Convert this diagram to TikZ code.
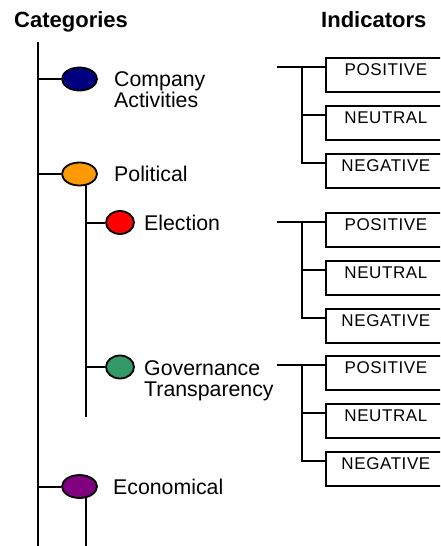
\documentclass[tikz,border=0pt]{standalone}
\usepackage{fontspec}
\setmainfont{Liberation Sans}
\newfontfamily\boxfont[LetterSpace=3.5]{Liberation Sans}
\usetikzlibrary{shapes.geometric,calc}

\definecolor{catnavy}{HTML}{000080}
\definecolor{catorange}{HTML}{FF9900}
\definecolor{catred}{HTML}{FF0000}
\definecolor{catgreen}{HTML}{339966}
\definecolor{catpurple}{HTML}{800080}

% one group of indicator boxes hanging from a stub at height #2
\newcommand\indgroup[2]{%
  \coordinate (#1s) at (277,#2);
  \coordinate (#1j) at (302,#2);
  \node[indbox] (#1p) at (325,#2-10) {POSITIVE};
  \node[indbox] (#1u) at (325,#2+38) {NEUTRAL};
  \node[indbox] (#1n) at (325,#2+86) {NEGATIVE};
  \coordinate (#1pm) at ($(#1p.north west)+(0,10)$);
  \coordinate (#1um) at ($(#1u.north west)+(0,10)$);
  \coordinate (#1nm) at ($(#1n.north west)+(0,10)$);
  \draw[tree] (#1s) -- (#1pm);
  \draw[tree] (#1j) |- (#1nm);
  \draw[tree] (#1j |- #1um) -- (#1um);
}

\begin{document}
\begin{tikzpicture}[x=1pt,y=-1pt,
  tree/.style={line width=2pt},
  cat/.style={ellipse, draw, line width=1.8pt, minimum width=35pt,
    minimum height=23pt, inner sep=0pt},
  subcat/.style={cat, minimum width=28pt},
  lab/.style={anchor=base west, inner sep=0pt, align=left,
    font=\fontsize{21.3}{21}\selectfont},
  head/.style={anchor=base west, inner sep=0pt,
    font=\bfseries\fontsize{22}{24}\selectfont},
  indbox/.style={draw, line width=1.8pt, anchor=north west, inner sep=0pt,
    minimum width=120pt, minimum height=34pt,
    text height=12pt, text depth=10pt,
    font=\boxfont\fontsize{17}{18}\selectfont}]
\useasboundingbox (0,0) rectangle (440,546);
\clip (0,0) rectangle (440,546);

% headings
\node[head] (hcat) at (14,27.7) {Categories};
\node[head] (hind) at (321,27.7) {Indicators};

% category tree
\coordinate (top) at (37.5,42);
\coordinate (bot) at (37.5,546);
\node[cat, fill=catnavy] (comp) at (79.5,79) {};
\node[cat, fill=catorange] (pol) at (79.5,174) {};
\node[subcat, fill=catred] (ele) at (120,222.5) {};
\node[subcat, fill=catgreen] (gov) at (120,367) {};
\node[cat, fill=catpurple] (eco) at (79.5,486.5) {};
\coordinate (polend) at (86,417);
\coordinate (ecoend) at (86,546);

\draw[tree] (top) -- (bot);
\draw[tree] (top |- comp) -- (comp);
\draw[tree] (top |- pol) -- (pol);
\draw[tree] (top |- eco) -- (eco);
\draw[tree] (pol.-59) -- (pol.-59 |- polend);
\draw[tree] (polend |- ele) -- (ele);
\draw[tree] (polend |- gov) -- (gov);
\draw[tree] (eco.-59) -- (eco.-59 |- ecoend);

% category labels (base anchor sits on the last line)
\node[lab] (tcomp) at (114,107) {Company\\Activities};
\node[lab] (tpol) at (114,181.5) {Political};
\node[lab] (tele) at (144,230) {Election};
\node[lab] (tgov) at (144,396.5) {Governance\\Transparency};
\node[lab] (teco) at (113,494) {Economical};

% indicator groups
\indgroup{ga}{67}
\indgroup{gb}{222}
\indgroup{gc}{365}
\end{tikzpicture}
\end{document}
